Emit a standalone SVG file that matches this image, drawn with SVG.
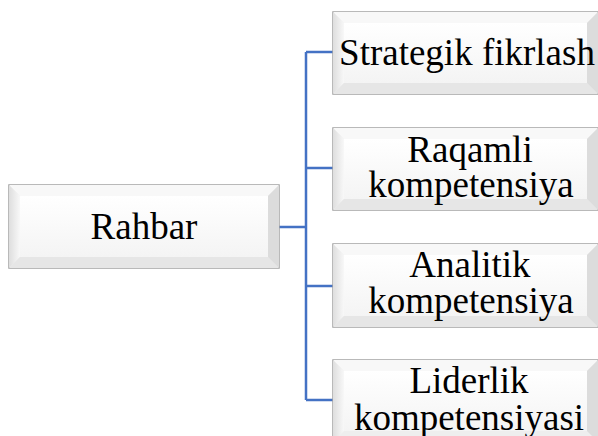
<svg xmlns="http://www.w3.org/2000/svg" width="598" height="436" viewBox="0 0 598 436">
<defs>
<style>
.outer{fill:#eeeeee;stroke:#a3a3a3;stroke-width:1.5}
.top{fill:#f8f8f8}
.left{fill:url(#gl)}
.bot{fill:#e6e6e6}
.right{fill:#dcdcdc}
.face{fill:url(#gf)}
.conn{fill:none;stroke:#4472C4;stroke-width:2.5}
</style>
<linearGradient id="gl" x1="0" y1="0" x2="1" y2="0"><stop offset="0" stop-color="#dedede"/><stop offset="1" stop-color="#f8f8f8"/></linearGradient>
<linearGradient id="gf" x1="0" y1="0" x2="0" y2="1"><stop offset="0" stop-color="#ffffff"/><stop offset="1" stop-color="#f4f4f4"/></linearGradient>
</defs>
<rect width="598" height="436" fill="#ffffff"/>
<g id="connectors">
<path class="conn" d="M279 227H306M306 52V400M306 52H333M306 168H333M306 286H333M306 400H333"/>
</g>
<g font-family="Liberation Serif, Times New Roman, serif" font-size="37" fill="#000" text-anchor="middle">
<g id="rahbar">
<rect class="outer" x="9" y="185" width="270" height="83"/>
<polygon class="top" points="9,185 279,185 268,196 20,196"/>
<polygon class="left" points="9,185 20,196 20,257 9,268"/>
<polygon class="bot" points="9,268 20,257 268,257 279,268"/>
<polygon class="right" points="279,185 279,268 268,257 268,196"/>
<rect class="face" x="20" y="196" width="248" height="61"/>
<text x="144" y="239">Rahbar</text>
</g>
<g id="strategik">
<rect class="outer" x="333" y="12" width="265" height="82"/>
<polygon class="top" points="333,12 598,12 587,23 344,23"/>
<polygon class="left" points="333,12 344,23 344,83 333,94"/>
<polygon class="bot" points="333,94 344,83 587,83 598,94"/>
<polygon class="right" points="598,12 598,94 587,83 587,23"/>
<rect class="face" x="344" y="23" width="243" height="60"/>
<text x="467" y="65">Strategik fikrlash</text>
</g>
<g id="raqamli">
<rect class="outer" x="333" y="128" width="265" height="82"/>
<polygon class="top" points="333,128 598,128 587,139 344,139"/>
<polygon class="left" points="333,128 344,139 344,199 333,210"/>
<polygon class="bot" points="333,210 344,199 587,199 598,210"/>
<polygon class="right" points="598,128 598,210 587,199 587,139"/>
<rect class="face" x="344" y="139" width="243" height="60"/>
<text x="470" y="162">Raqamli</text>
<text x="471" y="197">kompetensiya</text>
</g>
<g id="analitik">
<rect class="outer" x="333" y="244" width="265" height="83"/>
<polygon class="top" points="333,244 598,244 587,255 344,255"/>
<polygon class="left" points="333,244 344,255 344,316 333,327"/>
<polygon class="bot" points="333,327 344,316 587,316 598,327"/>
<polygon class="right" points="598,244 598,327 587,316 587,255"/>
<rect class="face" x="344" y="255" width="243" height="61"/>
<text x="470" y="277">Analitik</text>
<text x="471" y="313">kompetensiya</text>
</g>
<g id="liderlik">
<rect class="outer" x="333" y="360" width="265" height="82"/>
<polygon class="top" points="333,360 598,360 587,371 344,371"/>
<polygon class="left" points="333,360 344,371 344,431 333,442"/>
<polygon class="right" points="598,360 598,442 587,431 587,371"/>
<rect class="face" x="344" y="371" width="243" height="60"/>
<text x="469" y="393">Liderlik</text>
<text x="469" y="430">kompetensiyasi</text>
</g>
</g>
</svg>
